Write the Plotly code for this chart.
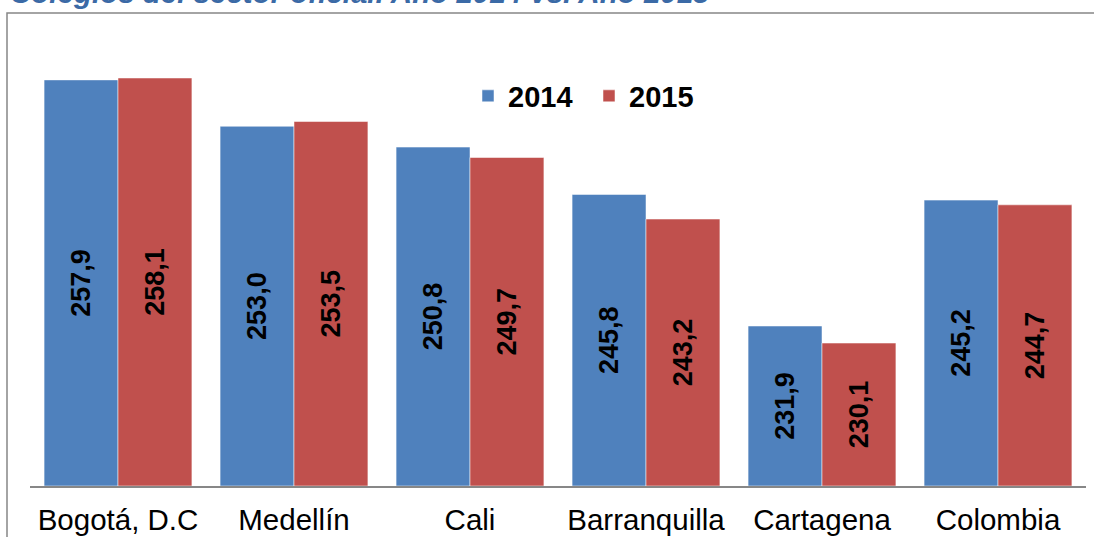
import plotly.graph_objects as go

categories = ["Bogotá, D.C", "Medellín", "Cali", "Barranquilla", "Cartagena", "Colombia"]
values_2014 = [257.9, 253.0, 250.8, 245.8, 231.9, 245.2]
values_2015 = [258.1, 253.5, 249.7, 243.2, 230.1, 244.7]
series_names = ["2014", "2015"]
title_text = "Colegios del sector oficial. Año 2014 vs. Año 2015"

FONT = "Arial, Liberation Sans, sans-serif"
W, H = 1094, 537
ML, MR, MT, MB = 30, 8, 60, 51
PW, PH = W - ML - MR, H - MT - MB
AXIS_MIN, AXIS_MAX = 215, 260


def fmt(v):
    return f"{v:.1f}".replace(".", ",")


def px_x(x):
    return (x - ML) / PW


def px_y(y):
    return (H - MB - y) / PH


fig = go.Figure()
for name, vals, col in [(series_names[0], values_2014, "#4F81BD"),
                        (series_names[1], values_2015, "#C0504D")]:
    fig.add_trace(go.Bar(
        x=categories, y=[v - AXIS_MIN for v in vals], base=AXIS_MIN, name=name,
        marker=dict(color=col, line=dict(color="rgba(255,255,255,0.5)", width=1)),
        text=[fmt(v) for v in vals],
        textposition="inside", insidetextanchor="middle", textangle=-90,
        textfont=dict(family=FONT, size=27, color="black", weight="bold"),
        hovertext=[fmt(v) for v in vals], hoverinfo="text+x+name",
    ))

fig.update_layout(
    width=W, height=H,
    margin=dict(l=ML, r=MR, t=MT, b=MB, autoexpand=False),
    paper_bgcolor="white", plot_bgcolor="white",
    barmode="group", bargap=0.16, bargroupgap=0,
    uniformtext=dict(mode="show", minsize=27),
    showlegend=True,
    legend=dict(orientation="h", x=px_x(468), y=px_y(96), xanchor="left", yanchor="middle",
                font=dict(family=FONT, size=29, color="black", weight="bold"),
                bgcolor="rgba(0,0,0,0)", traceorder="normal", itemwidth=30,
                entrywidth=76, entrywidthmode="pixels"),
    xaxis=dict(showline=True, linecolor="#878787", linewidth=2, ticks="",
               tickfont=dict(family=FONT, size=29.5, color="black"), showgrid=False,
               ticklabelstandoff=7, automargin=False),
    yaxis=dict(range=[AXIS_MIN, AXIS_MAX], visible=False, showgrid=False, automargin=False),
    font=dict(family=FONT),
)

fig.add_shape(type="rect", xref="paper", yref="paper",
              x0=px_x(7), x1=px_x(1200), y0=px_y(700), y1=px_y(13),
              line=dict(color="#878787", width=1.5), fillcolor="rgba(0,0,0,0)", layer="below")

fig.add_annotation(text=title_text, xref="paper", yref="paper",
                   x=px_x(8), y=px_y(11), xanchor="left", yanchor="bottom",
                   showarrow=False,
                   font=dict(family=FONT, size=29.5, color="#3B6AA6", weight="bold", style="italic"))

fig.write_html("out.html", config={"displayModeBar": False},
               post_script="document.body.style.margin='0';document.body.style.overflow='hidden';")
